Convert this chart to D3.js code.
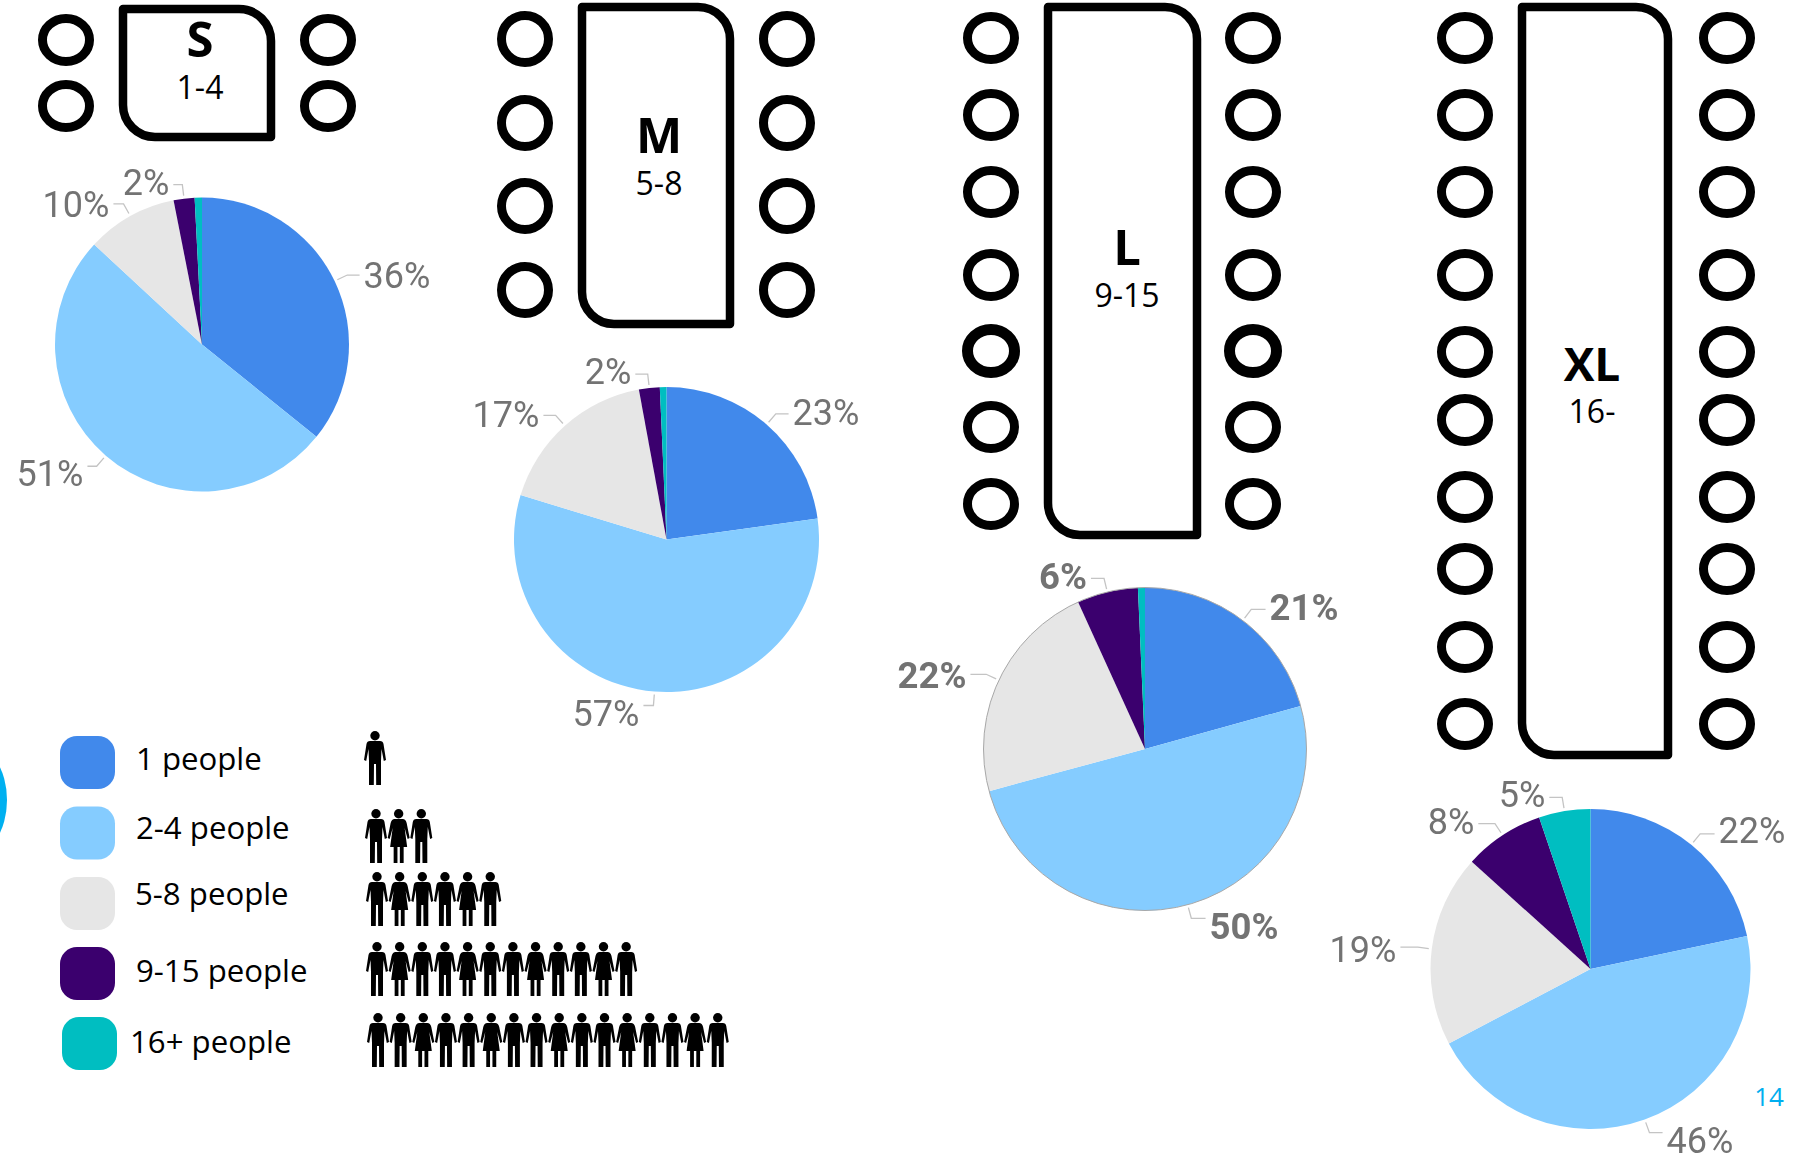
<!DOCTYPE html>
<html><head><meta charset="utf-8">
<script src="https://cdn.jsdelivr.net/npm/d3@7"></script>
<style>html,body{margin:0;padding:0;background:#fff;overflow:hidden}svg{display:block}</style>
</head><body><svg id="c" width="1806" height="1159"></svg>
<script>
// ---- data ----
const categories = ["1 people","2-4 people","5-8 people","9-15 people","16+ people"];
const colors = ["#4189EB","#85CCFF","#E6E6E6","#3B006E","#00BEC1"];
const sizeS = [35.8,51.1,10.0,2.3,0.8];
const sizeM = [22.8,56.9,17.4,2.2,0.7];
const sizeL = [20.7,50.1,22.4,6.1,0.7];
const sizeXL = [21.7,45.6,19.4,8.1,5.2];
const peopleCounts = [1,3,6,12,16];
const figurePatterns = ["m","mfm","mfmmfm","mfmmfmmfmmfm","mmfmmfmmfmmfmmfm"];
const tableNames = ["S","M","L","XL"];
const tableRanges = ["1-4","5-8","9-15","16-"];
const pageNumber = "14";

// ---- layout ----
const svg = d3.select("#c");
const LABEL_FONT = "Roboto, sans-serif", TEXT_FONT = "'Open Sans', sans-serif";
const tables = [
 {x0:119,x1:275,y0:5,y1:141,sx:[66,328],sy:[40,106],rx:23.5,ry:21.5,tx:200,b1:57,b2:99},
 {x0:578,x1:734,y0:3,y1:328,sx:[525,787],sy:[39,123,206,290],rx:23.5,ry:23.5,tx:659,b1:153,b2:195},
 {x0:1044,x1:1201,y0:3,y1:539,sx:[991,1253],sy:[38,115,192,275,351,427,504],heavy:351,rx:23.5,ry:21.5,tx:1127,b1:265,b2:307},
 {x0:1518,x1:1672,y0:3,y1:759,sx:[1465,1727],sy:[38,115,192,275,352,420,497,569,647,724],rx:23.5,ry:21.5,tx:1592,b1:381,b2:423}
];
const pies = [
 {v:sizeS,cx:202,cy:344.5,r:147,lab:[[397,275],[50,473],[76,204],[146,182]],w:400},
 {v:sizeM,cx:666.5,cy:539.5,r:152.5,lab:[[826,412],[606,713],[506,414],[608,371]],w:400},
 {v:sizeL,cx:1145,cy:749,r:161.5,lab:[[1304,607],[1244,926],[932,675],[1063,576]],w:700,edge:true},
 {v:sizeXL,cx:1590.5,cy:969,r:160,lab:[[1752,830],[1700,1140],[1363,949],[1451,821],[1522,794]],w:400}
];
const legendY = [736,806.5,877,947,1017];
const legendX = [60,60,60,60,62];
const legendTextX = [136,136,135,136,130];
const legendTextY = [770,839,905,982,1053];
const figX0 = [375,376,377,377,378], figY = [731,809,872,942,1013];
const figStep = d3.scaleLinear().domain([0,1]).range([0,22.65]);

const defs = svg.append("defs");
defs.append("filter").attr("id","soft").append("feGaussianBlur").attr("stdDeviation",0.45);

// decorative arc of a shape cut by the left edge
svg.append("ellipse").attr("cx",-30).attr("cy",800).attr("rx",37).attr("ry",56).attr("fill","#00B0F0");

// ---- tables ----
const tableG = svg.selectAll("g.table").data(tables).join("g").attr("class","table");
tableG.append("path").attr("fill","none").attr("stroke","#000").attr("stroke-width",8.5).attr("stroke-linejoin","round")
 .attr("d",t=>{
   const p=d3.path(),a=t.x0+4,b=t.x1-4,c=t.y0+4,e=t.y1-4,r=32;
   p.moveTo(a,c); p.lineTo(b-r,c); p.arcTo(b,c,b,c+r,r); p.lineTo(b,e);
   p.lineTo(a+r,e); p.arcTo(a,e,a,e-r,r); p.closePath(); return p.toString();});
tableG.each(function(t){
  const g=d3.select(this);
  t.sx.forEach(x=>g.selectAll(null).data(t.sy).join("ellipse")
    .attr("cx",x).attr("cy",d=>d).attr("rx",t.rx).attr("ry",t.ry)
    .attr("fill","none").attr("stroke","#000").attr("stroke-width",d=>d===t.heavy?11:9));
});
tableG.append("text").attr("x",t=>t.tx).attr("y",t=>t.b1).attr("text-anchor","middle")
 .attr("font-family",TEXT_FONT).attr("font-weight",700).attr("font-size",(t,i)=>i===3?46:49).attr("fill","#000")
 .text((t,i)=>tableNames[i]);
tableG.append("text").attr("x",t=>t.tx).attr("y",t=>t.b2).attr("text-anchor","middle")
 .attr("font-family",TEXT_FONT).attr("font-size",32).attr("fill","#000")
 .text((t,i)=>tableRanges[i]);

// ---- pies ----
const pct = d3.format(".0f");
pies.forEach(P=>{
  const g=svg.append("g").attr("transform",`translate(${P.cx},${P.cy})`);
  const arcs=d3.pie().sort(null)(P.v);
  const arc=d3.arc().innerRadius(0).outerRadius(P.r);
  g.selectAll("path").data(arcs).join("path").attr("d",arc).attr("fill",(d,i)=>colors[i]);
  if(P.edge) g.append("circle").attr("r",P.r).attr("fill","none").attr("stroke","#a8a8a8").attr("stroke-width",1);
  P.lab.forEach((L,i)=>{
    const a=arcs[i],mid=(a.startAngle+a.endAngle)/2,lx=L[0]-P.cx,ly=L[1]-P.cy;
    const t=g.append("text").attr("x",lx).attr("y",ly).attr("dy","0.36em").attr("text-anchor","middle")
      .attr("font-family",LABEL_FONT).attr("font-size",P.w===700?36.5:36).attr("font-weight",P.w).attr("fill","#737373")
      .attr("filter","url(#soft)")
      .text(pct(P.v[i])+"%");
    const hw=t.node().getComputedTextLength()/2+4;
    const s=Math.sin(mid),c=-Math.cos(mid);
    const r0=P.r+3, r1=P.r+14;
    const ex=r1*s, ey=r1*c, sideX=lx>ex?lx-hw:lx+hw;
    g.append("polyline").attr("fill","none").attr("stroke","#c4c4c4").attr("stroke-width",1.3)
      .attr("points",[[r0*s,r0*c],[ex,ey],[sideX,ey]].map(p=>p.join(",")).join(" "));
  });
});

// ---- legend ----
const leg=svg.selectAll("g.leg").data(categories).join("g").attr("class","leg");
leg.append("rect").attr("x",(d,i)=>legendX[i]).attr("y",(d,i)=>legendY[i]).attr("width",55).attr("height",53)
 .attr("rx",17).attr("fill",(d,i)=>colors[i]);
leg.append("text").attr("x",(d,i)=>legendTextX[i]).attr("y",(d,i)=>legendTextY[i])
 .attr("font-family",TEXT_FONT).attr("font-size",31.2).attr("fill","#000").text(d=>d);

// ---- people figures ----
const MAN="M-5,10L5,10Q8,10 8.5,13L11,29L8.8,30L6.5,18L6,30L6,54L1.2,54L1,33L-1,33L-1.2,54L-6,54L-6,30L-6.5,18L-8.8,30L-11,29L-8.5,13Q-8,10 -5,10Z";
const WOMAN="M-4,10L4,10Q7,10 8,14L11,29L9,30L6,19L8.5,38L5,38L5,54L1.2,54L1.2,38L-1.2,38L-1.2,54L-5,54L-5,38L-8.5,38L-6,19L-9,30L-11,29L-8,14Q-7,10 -4,10Z";
figurePatterns.forEach((pat,row)=>{
  const items=Array.from(pat).slice(0,peopleCounts[row]);
  const g=svg.append("g");
  const fg=g.selectAll("g").data(items).join("g")
    .attr("transform",(d,i)=>`translate(${figX0[row]+figStep(i)},${figY[row]})`);
  fg.append("circle").attr("cy",4.7).attr("r",4.7).attr("fill","#000");
  fg.append("path").attr("d",d=>d==="m"?MAN:WOMAN).attr("fill","#000");
});

svg.append("text").attr("x",1769).attr("y",1106).attr("text-anchor","middle")
 .attr("font-family",TEXT_FONT).attr("font-size",26).attr("fill","#00AEEF").text(pageNumber);
</script></body></html>
